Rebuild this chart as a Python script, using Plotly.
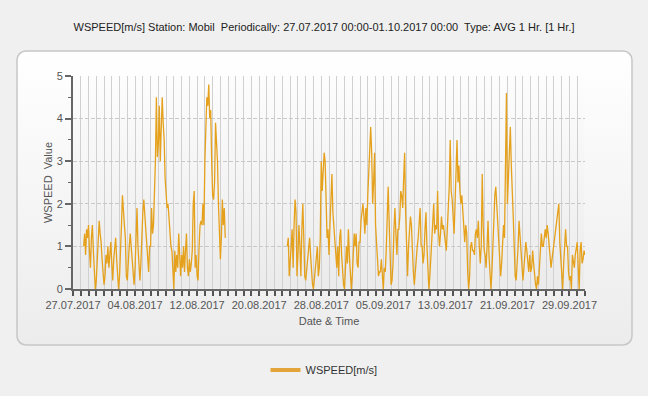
import base64
import pandas as pd
import plotly.graph_objects as go

# ---- data: 3-hourly wind speed (m/s) ----
seg1_start = "2017-07-28 09:00"
ws_week1 = [1.0, 1.3, 0.8, 1.4, 1.2,
            1.5, 0.9, 0.5, 1.2, 1.5, 0.9, 0.4, 0.0,
            0.2, 0.6, 1.0, 1.6, 1.3, 1.1, 0.7, 0.4,
            0.1, 0.3, 0.8, 0.6, 1.0, 0.5, 0.8, 1.1,
            0.6, 0.2, 0.7, 1.0, 1.2, 0.7, 0.3, 0.0,
            0.3, 0.8, 1.5, 2.2, 1.7, 1.5, 1.2, 0.3,
            0.2, 0.7, 1.0, 1.3, 1.0, 0.6, 0.2, 0.1]
ws_week2 = [0.5, 1.2, 1.9, 1.0, 0.4, 0.2, 0.6, 1.5,
            1.8, 2.1, 1.7, 1.4, 1.0, 0.8, 0.4, 1.0,
            1.0, 1.9, 1.3, 1.5, 2.2, 3.0, 4.5, 3.1,
            3.4, 4.3, 3.0, 4.2, 4.5, 3.9, 3.5, 2.6,
            2.2, 1.9, 2.0, 1.6, 1.4, 1.0, 0.9, 0.5,
            0.0, 0.9, 0.4, 0.8, 0.5, 1.3, 0.6, 0.3,
            0.8, 0.5, 1.0, 0.4, 0.9, 1.3, 0.5, 0.3]
ws_week3 = [0.7, 0.4, 0.6, 0.9, 2.0, 2.3, 0.5, 0.8,
            0.3, 0.2, 1.0, 1.5, 1.6, 1.5, 2.0, 1.5,
            3.0, 3.6, 4.5, 4.3, 4.8, 4.0, 4.2, 3.0,
            2.2, 2.1, 2.5, 3.9, 3.5, 3.0, 2.0, 1.5,
            0.7, 1.2, 2.1, 1.5, 1.9, 1.2]

seg2_start = "2017-08-23 15:00"
ws_week4 = [1.0, 1.2, 0.3,
            0.8, 1.0, 1.4, 0.5, 1.5, 2.1, 1.8, 0.3,
            0.8, 1.5, 1.0, 0.3, 1.4, 2.0, 1.2, 0.3,
            0.2, 0.5, 0.7, 0.9, 1.2, 0.8, 0.4, 0.1,
            0.0, 0.3, 0.6, 0.8, 1.0, 0.3, 0.5, 1.2,
            3.0, 2.3, 2.8, 3.2, 3.0, 2.0, 1.2, 1.4,
            0.8, 1.5, 2.2, 2.7, 1.8, 1.5, 1.0, 0.8]
ws_week5 = [0.5, 1.0, 0.3, 1.2, 1.4, 0.8, 0.4, 0.1,
            0.0, 0.5, 1.0, 0.6, 1.4, 0.8, 0.2, 0.0,
            0.3, 0.7, 1.3, 1.0, 1.3, 0.6, 0.5, 1.1,
            1.1, 1.6, 1.8, 2.0, 1.7, 1.3, 1.9, 1.5,
            2.2, 2.7, 3.0, 3.8, 3.2, 2.0, 2.5, 3.2,
            1.5, 1.0, 0.6, 0.3, 0.4, 0.4, 0.7, 0.2,
            0.0, 0.5, 0.4, 0.9, 1.6, 2.4, 1.6, 0.5]
ws_week6 = [0.1, 0.2, 0.6, 1.4, 1.9, 1.3, 0.8, 1.4,
            1.4, 1.7, 2.3, 2.2, 1.9, 2.6, 3.2, 1.8,
            0.8, 0.3, 1.0, 1.4, 1.7, 1.5, 0.8, 0.4,
            0.1, 0.5, 0.8, 1.0, 1.2, 1.6, 1.9, 1.0,
            1.0, 0.6, 0.8, 1.4, 1.8, 1.0, 0.4, 0.0,
            0.3, 0.7, 1.0, 1.4, 2.0, 1.3, 1.5, 1.4,
            2.3, 1.3, 1.0, 1.3, 1.7, 1.4, 1.5, 1.3]
ws_week7 = [1.0, 0.9, 1.4, 2.0, 2.4, 3.5, 2.3, 2.1,
            1.8, 1.3, 2.0, 3.0, 3.5, 2.5, 2.9, 2.3,
            2.0, 2.2, 1.8, 1.4, 1.1, 1.5, 1.3, 0.4,
            0.0, 0.3, 1.0, 1.1, 0.9, 0.9, 0.8, 1.3,
            1.4, 1.2, 1.6, 1.0, 0.6, 1.0, 2.7, 1.5,
            0.9, 0.8, 0.5, 1.0, 1.6, 0.8, 0.2, 0.0,
            0.4, 1.0, 1.8, 2.2, 2.4, 2.0, 1.5, 1.1]
ws_week8 = [0.6, 0.3, 0.6, 1.0, 1.5, 1.2, 3.2, 4.6,
            2.0, 2.6, 3.3, 3.8, 2.9, 2.4, 1.7, 1.0,
            0.3, 0.2, 0.5, 1.0, 1.6, 1.2, 0.9, 0.7,
            0.2, 0.5, 0.9, 1.1, 0.9, 0.5, 0.4, 0.8,
            0.4, 0.5, 0.9, 0.6, 0.3, 0.1, 0.0, 0.3,
            0.1, 0.5, 1.1, 1.3, 1.0, 1.0, 1.2, 1.4,
            1.2, 1.5, 1.3, 1.0, 0.8, 0.5, 0.7, 0.9]
ws_week9 = [1.0, 1.2, 1.5, 1.6, 1.8, 2.0, 1.1, 0.7,
            0.1, 0.0, 0.6, 1.2, 1.4, 1.0, 1.0, 0.4,
            0.2, 0.3, 0.0, 0.8, 0.6, 0.5, 0.8, 1.0,
            1.1, 0.5, 0.0, 0.9, 1.1, 0.6, 0.7, 0.9,
            0.8]

x_labels_format = "%d.%m.%Y"
title_text = ("WSPEED[m/s] Station: Mobil  Periodically: 27.07.2017 00:00-01.10.2017 00:00"
              "  Type: AVG 1 Hr. [1 Hr.]")
series_name = "WSPEED[m/s]"

# ---- build series ----
seg1 = ws_week1 + ws_week2 + ws_week3
seg2 = ws_week4 + ws_week5 + ws_week6 + ws_week7 + ws_week8 + ws_week9
t1 = list(pd.date_range(seg1_start, periods=len(seg1), freq="3h"))
t2 = list(pd.date_range(seg2_start, periods=len(seg2), freq="3h"))
xs = t1 + [None] + t2
ys = seg1 + [None] + seg2

LINE = "#E5A11C"

fig = go.Figure()
fig.add_trace(go.Scatter(x=xs, y=ys, mode="lines", line=dict(color=LINE, width=1.3),
                         connectgaps=False, showlegend=False, hoverinfo="skip"))
fig.add_trace(go.Scatter(x=[None], y=[None], mode="lines", name=series_name,
                         line=dict(color="#E3A53A", width=4)))

# plot geometry (pixels)
L, R, T, B = 73, 585, 76, 289
W, H = 648, 396
pw, ph = R - L, B - T

def svg_uri(w, h, c1, c2, rx, stroke):
    s = (f"<svg xmlns='http://www.w3.org/2000/svg' width='{w}' height='{h}' viewBox='0 0 {w} {h}'>"
         f"<defs><linearGradient id='g' x1='0' y1='0' x2='0' y2='1'>"
         f"<stop offset='0' stop-color='{c1}'/><stop offset='1' stop-color='{c2}'/>"
         f"</linearGradient></defs>"
         f"<rect x='1' y='1' width='{w-2}' height='{h-2}' rx='{rx}' fill='url(#g)' "
         f"stroke='{stroke}' stroke-width='{1.5 if stroke != 'none' else 0}'/></svg>")
    return "data:image/svg+xml;base64," + base64.b64encode(s.encode()).decode()

px0, py0, px1, py1 = 16, 50, 633, 346
fig.add_layout_image(dict(source=svg_uri(px1 - px0, py1 - py0, "#ffffff", "#ececec", 9, "#c6c6c6"),
                          xref="paper", yref="paper", x=(px0 - L) / pw, y=(B - py0) / ph,
                          sizex=(px1 - px0) / pw, sizey=(py1 - py0) / ph,
                          xanchor="left", yanchor="top", sizing="stretch", layer="below"))
fig.add_layout_image(dict(source=svg_uri(pw, ph, "#fdfdfd", "#ebebeb", 0, "none"),
                          xref="paper", yref="paper", x=0, y=1, sizex=1, sizey=1,
                          xanchor="left", yanchor="top", sizing="stretch", layer="below"))

DAY = 86400000
fig.update_layout(
    width=W, height=H,
    margin=dict(l=L, r=W - R, t=T, b=H - B, pad=0, autoexpand=False),
    paper_bgcolor="#f0f0f0", plot_bgcolor="rgba(0,0,0,0)",
    font=dict(family="Liberation Sans, Arial, sans-serif", size=11, color="#555555"),
    title=dict(text=title_text, x=0.5, xref="container", xanchor="center",
               y=1 - 27 / H, yref="container", yanchor="middle", automargin=False,
               font=dict(size=11, color="#222222")),
    legend=dict(orientation="h", x=(324 - L) / pw, xanchor="center",
                y=(B - 370) / ph, yanchor="middle", itemwidth=30,
                font=dict(size=11, color="#333333"), bgcolor="rgba(0,0,0,0)"),
    xaxis=dict(type="date", range=["2017-07-27", "2017-10-01"], automargin=False,
               tick0="2017-07-27", dtick=8 * DAY, tickformat=x_labels_format,
               showgrid=True, gridcolor="#d0d0d0", gridwidth=1,
               ticks="outside", ticklen=5, tickwidth=2, tickcolor="#555555",
               showline=True, linecolor="#666666", linewidth=2,
               minor=dict(dtick=DAY, tick0="2017-07-27", showgrid=True, gridcolor="#d0d0d0",
                          ticks="outside", ticklen=5, tickwidth=2, tickcolor="#555555"),
               tickfont=dict(size=11, color="#555555"),
               title=dict(text="Date & Time", standoff=7, font=dict(size=11, color="#555555")),
               zeroline=False, fixedrange=True),
    yaxis=dict(range=[0, 5], dtick=1, tick0=0, automargin=False,
               showgrid=True, gridcolor="#c8c8c8", griddash="4px,2px", gridwidth=1,
               ticks="outside", ticklen=6, tickwidth=2, tickcolor="#666666",
               showline=True, linecolor="#666666", linewidth=2,
               minor=dict(dtick=0.5, ticks="outside", ticklen=3, tickwidth=1, tickcolor="#666666",
                          showgrid=False),
               tickfont=dict(size=11, color="#555555"),
               title=dict(text="WSPEED  Value", standoff=2, font=dict(size=11, color="#555555")),
               zeroline=False, fixedrange=True),
)

fig.write_html("out.html", config={"displayModeBar": False},
               post_script="document.body.style.margin='0';"
                           "document.body.style.background='#f0f0f0';")
